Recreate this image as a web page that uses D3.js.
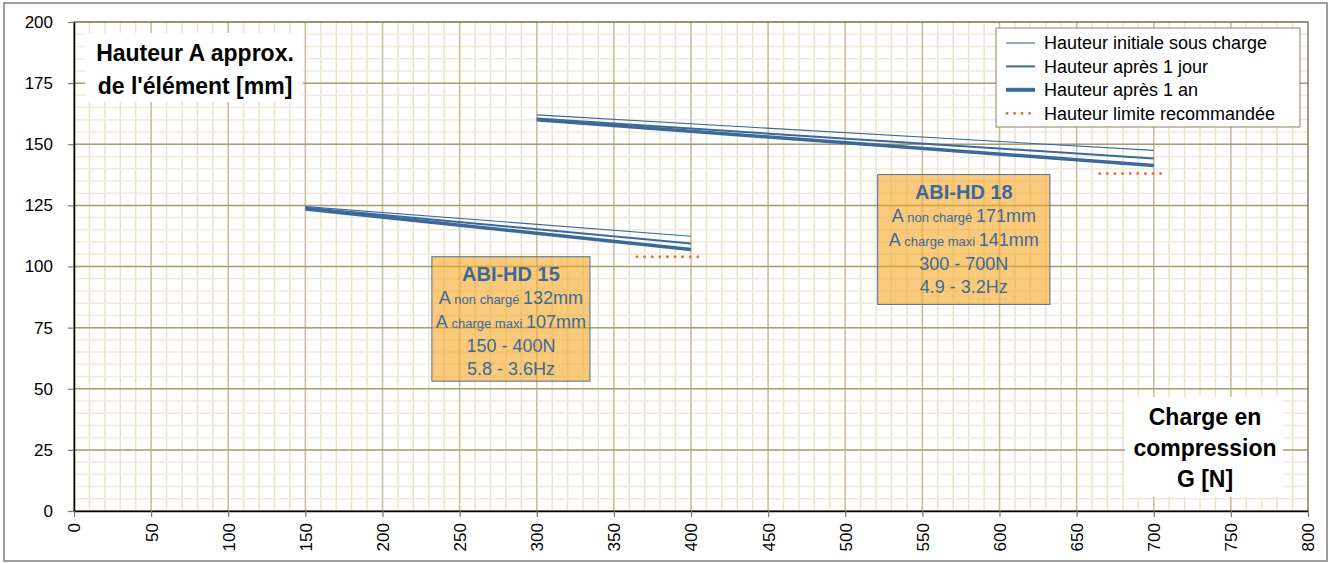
<!DOCTYPE html>
<html>
<head>
<meta charset="utf-8">
<script src="https://cdn.jsdelivr.net/npm/d3@7/dist/d3.min.js"></script>
<style>
  html, body { margin: 0; padding: 0; background: #fff; }
  svg { display: block; font-family: "Liberation Sans", Arial, sans-serif; }
</style>
</head>
<body>
<svg id="chart" width="1333" height="563"></svg>
<script>
// ---- data ----
const xTicks = [0, 50, 100, 150, 200, 250, 300, 350, 400, 450, 500, 550, 600, 650, 700, 750, 800];
const yTicks = [0, 25, 50, 75, 100, 125, 150, 175, 200];

const hd15Load = [150, 400];
const hd15Initial = [124.5, 112.4];
const hd15Day = [124, 109.4];
const hd15Year = [123.5, 107];
const hd15Limit = { load: [365, 405], value: 104 };

const hd18Load = [300, 700];
const hd18Initial = [162, 147.5];
const hd18Day = [160.5, 144.2];
const hd18Year = [160, 141.3];
const hd18Limit = { load: [665, 705], value: 138 };

const legendLabels = [
  'Hauteur initiale sous charge',
  'Hauteur après 1 jour',
  'Hauteur après 1 an',
  'Hauteur limite recommandée'
];

const hd15Info = ['ABI-HD 15', '132mm', '107mm', '150 - 400N', '5.8 - 3.6Hz'];
const hd18Info = ['ABI-HD 18', '171mm', '141mm', '300 - 700N', '4.9 - 3.2Hz'];

// ---- layout ----
const svg = d3.select('#chart');
const plotLeft = 74, plotRight = 1308, plotTop = 22, plotBottom = 511;
const blue = '#3b6a9a';
const orange = '#f26b3a';

const x = d3.scaleLinear().domain([0, 800]).range([plotLeft, plotRight]);
const y = d3.scaleLinear().domain([0, 200]).range([plotBottom, plotTop]);

// outer frame
svg.append('rect')
  .attr('x', 4).attr('y', 3).attr('width', 1323).attr('height', 558)
  .attr('fill', '#fff').attr('stroke', '#7f7f7f').attr('stroke-width', 1.5);

// grid
const grid = svg.append('g');
grid.selectAll('.vminor').data(d3.range(0, 801, 10)).enter().append('line')
  .attr('x1', d => x(d)).attr('x2', d => x(d)).attr('y1', plotTop).attr('y2', plotBottom)
  .attr('stroke', '#e9e3cf').attr('stroke-width', 1.5);
grid.selectAll('.hminor').data(d3.range(0, 201, 5)).enter().append('line')
  .attr('x1', plotLeft).attr('x2', plotRight).attr('y1', d => y(d)).attr('y2', d => y(d))
  .attr('stroke', '#efeadb').attr('stroke-width', 1.5);
grid.selectAll('.vmajor').data(d3.range(0, 801, 50)).enter().append('line')
  .attr('x1', d => x(d)).attr('x2', d => x(d)).attr('y1', plotTop).attr('y2', plotBottom)
  .attr('stroke', '#cbc09e').attr('stroke-width', 1.5);
grid.selectAll('.hmajor').data(d3.range(0, 201, 25)).enter().append('line')
  .attr('x1', plotLeft).attr('x2', plotRight).attr('y1', d => y(d)).attr('y2', d => y(d))
  .attr('stroke', '#a79d78').attr('stroke-width', 1.5);

svg.append('rect')
  .attr('x', plotLeft).attr('y', plotTop).attr('width', plotRight - plotLeft).attr('height', plotBottom - plotTop)
  .attr('fill', 'none').attr('stroke', '#77705a').attr('stroke-width', 1);

// info boxes
function infoBox(info, x0, x1, y0, y1) {
  const g = svg.append('g');
  const bx = x(x0), by = y(y0), bw = x(x1) - x(x0), bh = y(y1) - y(y0);
  g.append('rect')
    .attr('x', bx).attr('y', by).attr('width', bw).attr('height', bh)
    .attr('fill', '#f5a623').attr('fill-opacity', 0.6)
    .attr('stroke', '#4d6f98').attr('stroke-width', 1);
  const cx = bx + bw / 2;
  const t = g.append('text').attr('text-anchor', 'middle').attr('fill', blue);
  t.append('tspan').attr('x', cx).attr('y', by + 24)
    .attr('font-size', 20).attr('font-weight', 'bold').text(info[0]);
  const l2 = t.append('tspan').attr('x', cx).attr('y', by + 47.5).attr('font-size', 18);
  l2.append('tspan').text('A');
  l2.append('tspan').attr('font-size', 13).text(' non chargé ');
  l2.append('tspan').text(info[1]);
  const l3 = t.append('tspan').attr('x', cx).attr('y', by + 71).attr('font-size', 18);
  l3.append('tspan').text('A');
  l3.append('tspan').attr('font-size', 13).text(' charge maxi ');
  l3.append('tspan').text(info[2]);
  t.append('tspan').attr('x', cx).attr('y', by + 95).attr('font-size', 18).text(info[3]);
  t.append('tspan').attr('x', cx).attr('y', by + 118.5).attr('font-size', 18).text(info[4]);
}
infoBox(hd15Info, 232, 334.5, 104, 53.1);
infoBox(hd18Info, 521, 632.7, 137.6, 84.5);

// series lines
const line = d3.line().x(d => x(d[0])).y(d => y(d[1]));
function series(load, values, width) {
  svg.append('path')
    .attr('d', line(d3.zip(load, values)))
    .attr('fill', 'none').attr('stroke', blue).attr('stroke-width', width);
}
function limit(lim) {
  svg.append('path')
    .attr('d', line(lim.load.map(l => [l, lim.value])))
    .attr('fill', 'none').attr('stroke', orange).attr('stroke-width', 3)
    .attr('stroke-linecap', 'round').attr('stroke-dasharray', '0 7.6');
}
series(hd15Load, hd15Initial, 1.1);
series(hd15Load, hd15Day, 2);
series(hd15Load, hd15Year, 3.5);
limit(hd15Limit);
series(hd18Load, hd18Initial, 1.1);
series(hd18Load, hd18Day, 2);
series(hd18Load, hd18Year, 3.5);
limit(hd18Limit);

// legend
const legend = svg.append('g');
legend.append('rect')
  .attr('x', 996).attr('y', 28).attr('width', 304).attr('height', 99)
  .attr('fill', '#fff').attr('stroke', '#8c8464').attr('stroke-width', 1);
const legendStyles = [
  { w: 1.1, dash: null, color: blue },
  { w: 2, dash: null, color: blue },
  { w: 4, dash: null, color: blue },
  { w: 3, dash: '0 7.5', color: orange }
];
const rows = legend.selectAll('.row').data(legendLabels).enter().append('g')
  .attr('transform', (d, i) => 'translate(0,' + (43 + i * 23.4) + ')');
rows.append('line')
  .attr('x1', (d, i) => i === 3 ? 1007 : 1006).attr('x2', (d, i) => i === 3 ? 1037 : 1035)
  .attr('y1', 0).attr('y2', 0)
  .attr('stroke', (d, i) => legendStyles[i].color)
  .attr('stroke-width', (d, i) => legendStyles[i].w)
  .attr('stroke-linecap', (d, i) => i === 3 ? 'round' : 'butt')
  .attr('stroke-dasharray', (d, i) => legendStyles[i].dash);
rows.append('text')
  .attr('x', 1044).attr('y', 0).attr('dy', '0.35em')
  .attr('font-size', 18).attr('fill', '#000')
  .text(d => d);

// axis titles
svg.append('rect').attr('x', 85).attr('y', 33).attr('width', 218).attr('height', 69).attr('fill', '#fff');
svg.append('text').attr('text-anchor', 'middle').attr('font-weight', 'bold').attr('font-size', 23)
  .selectAll('tspan').data(['Hauteur A approx.', "de l'élément [mm]"]).enter().append('tspan')
  .attr('x', 195).attr('y', (d, i) => 61 + i * 33).text(d => d);

svg.append('rect').attr('x', 1125).attr('y', 397).attr('width', 158).attr('height', 100).attr('fill', '#fff');
svg.append('text').attr('text-anchor', 'middle').attr('font-weight', 'bold').attr('font-size', 23)
  .selectAll('tspan').data(['Charge en', 'compression', 'G [N]']).enter().append('tspan')
  .attr('x', 1205).attr('y', (d, i) => 425 + i * 31).text(d => d);

// axes
const yAxis = svg.append('g').attr('transform', 'translate(' + plotLeft + ',0)')
  .call(d3.axisLeft(y).tickValues(yTicks).tickSize(6).tickPadding(15).tickSizeOuter(0));
const xAxis = svg.append('g').attr('transform', 'translate(0,' + plotBottom + ')')
  .call(d3.axisBottom(x).tickValues(xTicks).tickSize(6).tickSizeOuter(0));
[yAxis, xAxis].forEach(a => {
  a.select('.domain').attr('stroke', '#000').attr('stroke-width', 1.5);
  a.selectAll('.tick line').attr('stroke', '#777').attr('stroke-width', 1.2);
  a.selectAll('.tick text').attr('font-size', 17).attr('fill', '#000')
    .attr('font-family', '"Liberation Sans", Arial, sans-serif');
});
xAxis.selectAll('.tick text')
  .attr('transform', 'rotate(-90)')
  .attr('text-anchor', 'end')
  .attr('x', -12).attr('y', 0).attr('dy', '0.35em');
</script>
</body>
</html>
